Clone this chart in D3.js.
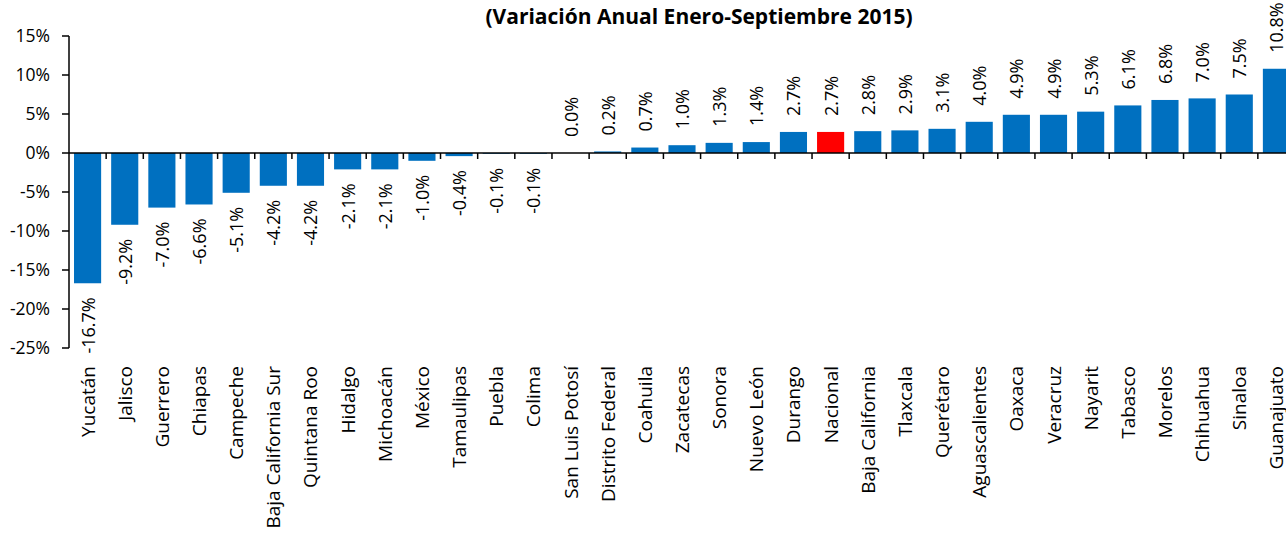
<!DOCTYPE html>
<html>
<head>
<meta charset="utf-8">
<script src="https://cdn.jsdelivr.net/npm/d3@7"></script>
<style>
  body { margin: 0; background: #fff; }
  svg { display: block; font-family: "Open Sans", sans-serif; }
  .title { font-weight: bold; font-size: 21px; fill: #000; }
  .tick-label { font-size: 17.5px; fill: #000; }
  .cat-label { font-size: 19px; fill: #000; }
  .value-label { font-size: 18px; fill: #000; }
</style>
</head>
<body>
<div id="chart"></div>
<script>
// states, sorted by annual change
const STATES = [
  "Yucatán", "Jalisco", "Guerrero", "Chiapas", "Campeche", "Baja California Sur",
  "Quintana Roo", "Hidalgo", "Michoacán", "México", "Tamaulipas", "Puebla", "Colima",
  "San Luis Potosí", "Distrito Federal", "Coahuila", "Zacatecas", "Sonora", "Nuevo León",
  "Durango", "Nacional", "Baja California", "Tlaxcala", "Querétaro", "Aguascalientes",
  "Oaxaca", "Veracruz", "Nayarit", "Tabasco", "Morelos", "Chihuahua", "Sinaloa", "Guanajuato"
];

// annual change, percent
const CHANGES = [
  -16.7, -9.2, -7.0, -6.6, -5.1, -4.2,
  -4.2, -2.1, -2.1, -1.0, -0.4, -0.1, -0.1,
  0.0, 0.2, 0.7, 1.0, 1.3, 1.4,
  2.7, 2.7, 2.8, 2.9, 3.1, 4.0,
  4.9, 4.9, 5.3, 6.1, 6.8, 7.0, 7.5, 10.8
];

const Y_TICKS = [-25, -20, -15, -10, -5, 0, 5, 10, 15];
const HIGHLIGHT = "Nacional";
const TITLE = "(Variación Anual Enero-Septiembre 2015)";

const data = STATES.map((name, i) => ({ name, value: CHANGES[i] }));

const outerWidth = 1286;
const outerHeight = 535;

const svg = d3.select("#chart")
  .append("svg")
  .attr("width", outerWidth)
  .attr("height", outerHeight);

// scales
const x = d3.scaleBand()
  .domain(STATES)
  .range([69, 1295])
  .paddingInner(0.27)
  .paddingOuter(0.135);

const y = d3.scaleLinear().domain([-25, 15]).range([348, 36]);

// title
svg.append("text")
  .attr("class", "title")
  .attr("x", 699)
  .attr("y", 24)
  .attr("text-anchor", "middle")
  .text(TITLE);

// bars
svg.append("g")
  .selectAll("rect")
  .data(data)
  .enter()
  .append("rect")
  .attr("x", (d) => x(d.name))
  .attr("width", x.bandwidth())
  .attr("y", (d) => y(Math.max(0, d.value)))
  .attr("height", (d) => Math.abs(y(d.value) - y(0)))
  .attr("fill", (d) => (d.name === HIGHLIGHT ? "#FF0000" : "#0070C0"));

// value labels
svg.append("g")
  .selectAll("text")
  .data(data)
  .enter()
  .append("text")
  .attr("class", "value-label")
  .attr("dominant-baseline", "central")
  .attr("text-anchor", (d) => (d.value >= 0 ? "start" : "end"))
  .attr("transform", (d) => {
    const cx = x(d.name) + x.bandwidth() / 2;
    const cy = d.value >= 0 ? y(d.value) - 16 : y(d.value) + 14;
    return `translate(${cx},${cy}) rotate(-90)`;
  })
  .text((d) => `${d.value.toFixed(1)}%`);

// y axis
const yAxis = svg.append("g").attr("transform", "translate(69,0)");
yAxis.append("line")
  .attr("y1", y(15)).attr("y2", y(-25))
  .attr("stroke", "#000").attr("stroke-width", 1.5);
yAxis.selectAll(".tick")
  .data(Y_TICKS)
  .enter()
  .append("line")
  .attr("x1", -7).attr("x2", 0)
  .attr("y1", (d) => y(d)).attr("y2", (d) => y(d))
  .attr("stroke", "#000").attr("stroke-width", 1.5);
yAxis.selectAll("text")
  .data(Y_TICKS)
  .enter()
  .append("text")
  .attr("class", "tick-label")
  .attr("x", -19)
  .attr("y", (d) => y(d))
  .attr("dy", "0.35em")
  .attr("text-anchor", "end")
  .text((d) => `${d}%`);

// x axis at zero
const xAxis = svg.append("g");
xAxis.append("line")
  .attr("x1", 69).attr("x2", 1295)
  .attr("y1", y(0)).attr("y2", y(0))
  .attr("stroke", "#000").attr("stroke-width", 1.5);
xAxis.selectAll(".tick")
  .data(STATES.slice(1))
  .enter()
  .append("line")
  .attr("x1", (d) => x(d) - (x.step() - x.bandwidth()) / 2)
  .attr("x2", (d) => x(d) - (x.step() - x.bandwidth()) / 2)
  .attr("y1", y(0)).attr("y2", y(0) + 6)
  .attr("stroke", "#000").attr("stroke-width", 1.5);

// category labels
svg.append("g")
  .selectAll("text")
  .data(STATES)
  .enter()
  .append("text")
  .attr("class", "cat-label")
  .attr("text-anchor", "end")
  .attr("dominant-baseline", "central")
  .attr("transform", (d) => `translate(${x(d) + x.bandwidth() / 2},366) rotate(-90)`)
  .text((d) => d);
</script>
</body>
</html>
